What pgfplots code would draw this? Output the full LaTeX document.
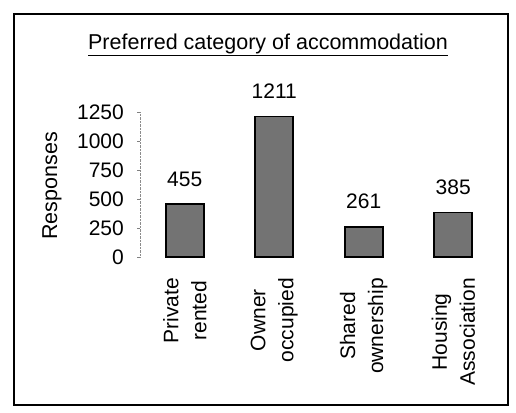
\documentclass[border=0pt]{standalone}
\usepackage{pgfplots}
\pgfplotsset{compat=1.18}
\usepackage{fontspec}
\setmainfont{Liberation Sans}
\begin{document}
\begin{tikzpicture}[x=1pt,y=1pt]
\path[use as bounding box] (0,0) rectangle (516,-412);
\draw[line width=1.6pt] (14,-14) rectangle (508,-405);
\node[font=\fontsize{21.5}{25}\selectfont, anchor=base] at (268,-49) {\underline{Preferred category of accommodation}};
\begin{axis}[
  at={(140pt,-257pt)}, anchor=south west,
  scale only axis, width=358pt, height=145pt,
  xmin=-0.5, xmax=3.5, ymin=0, ymax=1250,
  enlargelimits=false, clip=false,
  /pgf/number format/assume math mode=true,
  /pgf/number format/1000 sep={},
  ytick={0,250,500,750,1000,1250},
  yticklabel style={font=\fontsize{21}{24}\selectfont, inner sep=0pt, xshift=-13pt},
  xtick={0,1,2,3},
  xticklabels={Private\\rented, Owner\\occupied, Shared\\ownership, Housing\\Association},
  xticklabel style={font=\fontsize{21}{28}\selectfont, yshift=-18pt, rotate=90, anchor=east, align=center, inner sep=0pt},
  extra x ticks={0.5,1.5,2.5},
  extra x tick labels={},
  extra x tick style={major tick length=6pt, tick align=outside, tick style={black!60}},
  x axis line style={draw=none},
  y axis line style={black!45, densely dotted},
  axis x line*=bottom, axis y line*=left,
  major x tick style={draw=none},
  ytick style={black!50},
  tick align=outside, major tick length=3pt,
  ylabel={Responses},
  ylabel style={font=\fontsize{21.5}{24}\selectfont, at={(rel axis cs:0,0.49)}, anchor=center, rotate=0, yshift=88pt},
  nodes near coords,
  every node near coord/.append style={font=\fontsize{21}{24}\selectfont, inner sep=0pt, yshift=17pt},
]
\addplot[ybar, bar width=38pt, fill=black!55, draw=black, line width=1.6pt]
  coordinates {(0,455) (1,1211) (2,261) (3,385)};
\end{axis}
\end{tikzpicture}
\end{document}
